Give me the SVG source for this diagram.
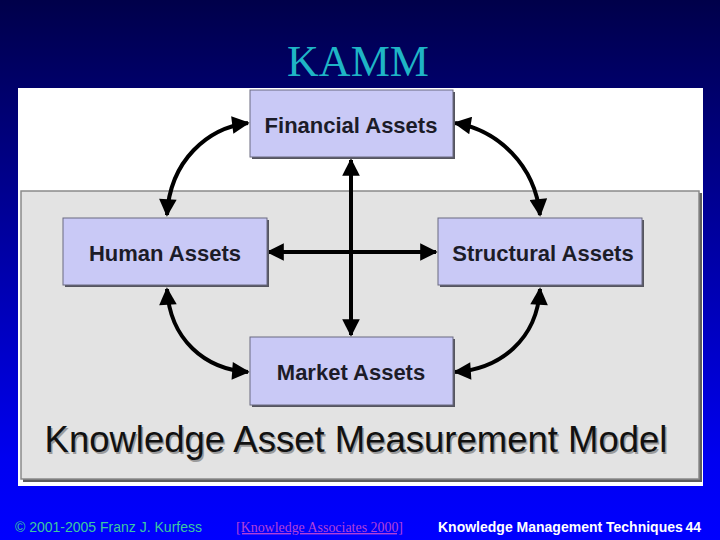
<svg xmlns="http://www.w3.org/2000/svg" width="720" height="540" viewBox="0 0 720 540">
<defs>
<linearGradient id="bg" x1="0" y1="0" x2="0" y2="1">
<stop offset="0" stop-color="#00004a"/>
<stop offset="0.85" stop-color="#0000f0"/>
<stop offset="1" stop-color="#0000ff"/>
</linearGradient>
<marker id="ah" viewBox="0 0 10 10" refX="9" refY="5" markerWidth="4.8" markerHeight="4.4" orient="auto-start-reverse" markerUnits="strokeWidth">
<path d="M0,0 L10,5 L0,10 Z" fill="#000"/>
</marker>
<style>
.box{fill:#c9c9f6;stroke:#6a6a80;stroke-width:1}
.shadow{fill:#55555f}
.lbl{font-family:"Liberation Sans",Arial,sans-serif;font-weight:bold;font-size:22px;fill:#1c1c28;text-anchor:middle}
.con{fill:none;stroke:#000;stroke-width:4;marker-start:url(#ah);marker-end:url(#ah)}
</style>
</defs>
<rect x="0" y="0" width="720" height="540" fill="url(#bg)"/>
<text x="358" y="76" font-family="'Liberation Serif','Times New Roman',serif" font-size="44" fill="#1fb5c5" text-anchor="middle">KAMM</text>
<g id="panel">
<rect x="18" y="88" width="685" height="398" fill="#ffffff"/>
<rect x="23" y="193" width="679" height="289" fill="#5e5e5e"/>
<rect x="21" y="191" width="678" height="288" fill="#e3e3e3" stroke="#8a8a8a" stroke-width="1.5"/>
<text x="356" y="452" font-family="'Liberation Sans',Arial,sans-serif" font-size="36.5" fill="#555" text-anchor="middle" opacity="0.5" transform="translate(1.5,1.5)">Knowledge Asset Measurement Model</text>
<text x="356" y="452" font-family="'Liberation Sans',Arial,sans-serif" font-size="36.5" fill="#111" text-anchor="middle">Knowledge Asset Measurement Model</text>
</g>
<g id="connectors">
<path class="con" d="M351,335 L351,160"/>
<path class="con" d="M268,252 L436,252"/>
<path class="con" d="M248,123 C208,128 170,160 167,215"/>
<path class="con" d="M455,123 C498,130 535,165 540,215"/>
<path class="con" d="M167,289 C170,340 205,369 248,372"/>
<path class="con" d="M540,289 C537,340 500,369 455,372"/>
</g>
<g id="financial">
<rect class="shadow" x="252" y="92" width="203" height="67"/>
<rect class="box" x="250" y="90" width="203" height="67"/>
<text class="lbl" x="351" y="133">Financial Assets</text>
</g>
<g id="human">
<rect class="shadow" x="65" y="220" width="204" height="67"/>
<rect class="box" x="63" y="218" width="204" height="67"/>
<text class="lbl" x="165" y="261">Human Assets</text>
</g>
<g id="structural">
<rect class="shadow" x="440" y="220" width="204" height="67"/>
<rect class="box" x="438" y="218" width="204" height="67"/>
<text class="lbl" x="543" y="261">Structural Assets</text>
</g>
<g id="market">
<rect class="shadow" x="252" y="339" width="203" height="68"/>
<rect class="box" x="250" y="337" width="203" height="68"/>
<text class="lbl" x="351" y="380">Market Assets</text>
</g>
<g id="footer">
<text x="15" y="532" font-family="'Liberation Sans',Arial,sans-serif" font-size="14" fill="#3cc8a0">© 2001-2005 Franz J. Kurfess</text>
<text x="236" y="532" font-family="'Liberation Serif','Times New Roman',serif" font-size="14" fill="#b040d8" text-decoration="underline" textLength="167" lengthAdjust="spacingAndGlyphs">[Knowledge Associates 2000]</text>
<text x="438" y="532" font-family="'Liberation Sans',Arial,sans-serif" font-size="14" font-weight="bold" fill="#ffffff">Knowledge Management Techniques</text>
<text x="701" y="532" font-family="'Liberation Sans',Arial,sans-serif" font-size="14" font-weight="bold" fill="#ffffff" text-anchor="end">44</text>
</g>
</svg>
